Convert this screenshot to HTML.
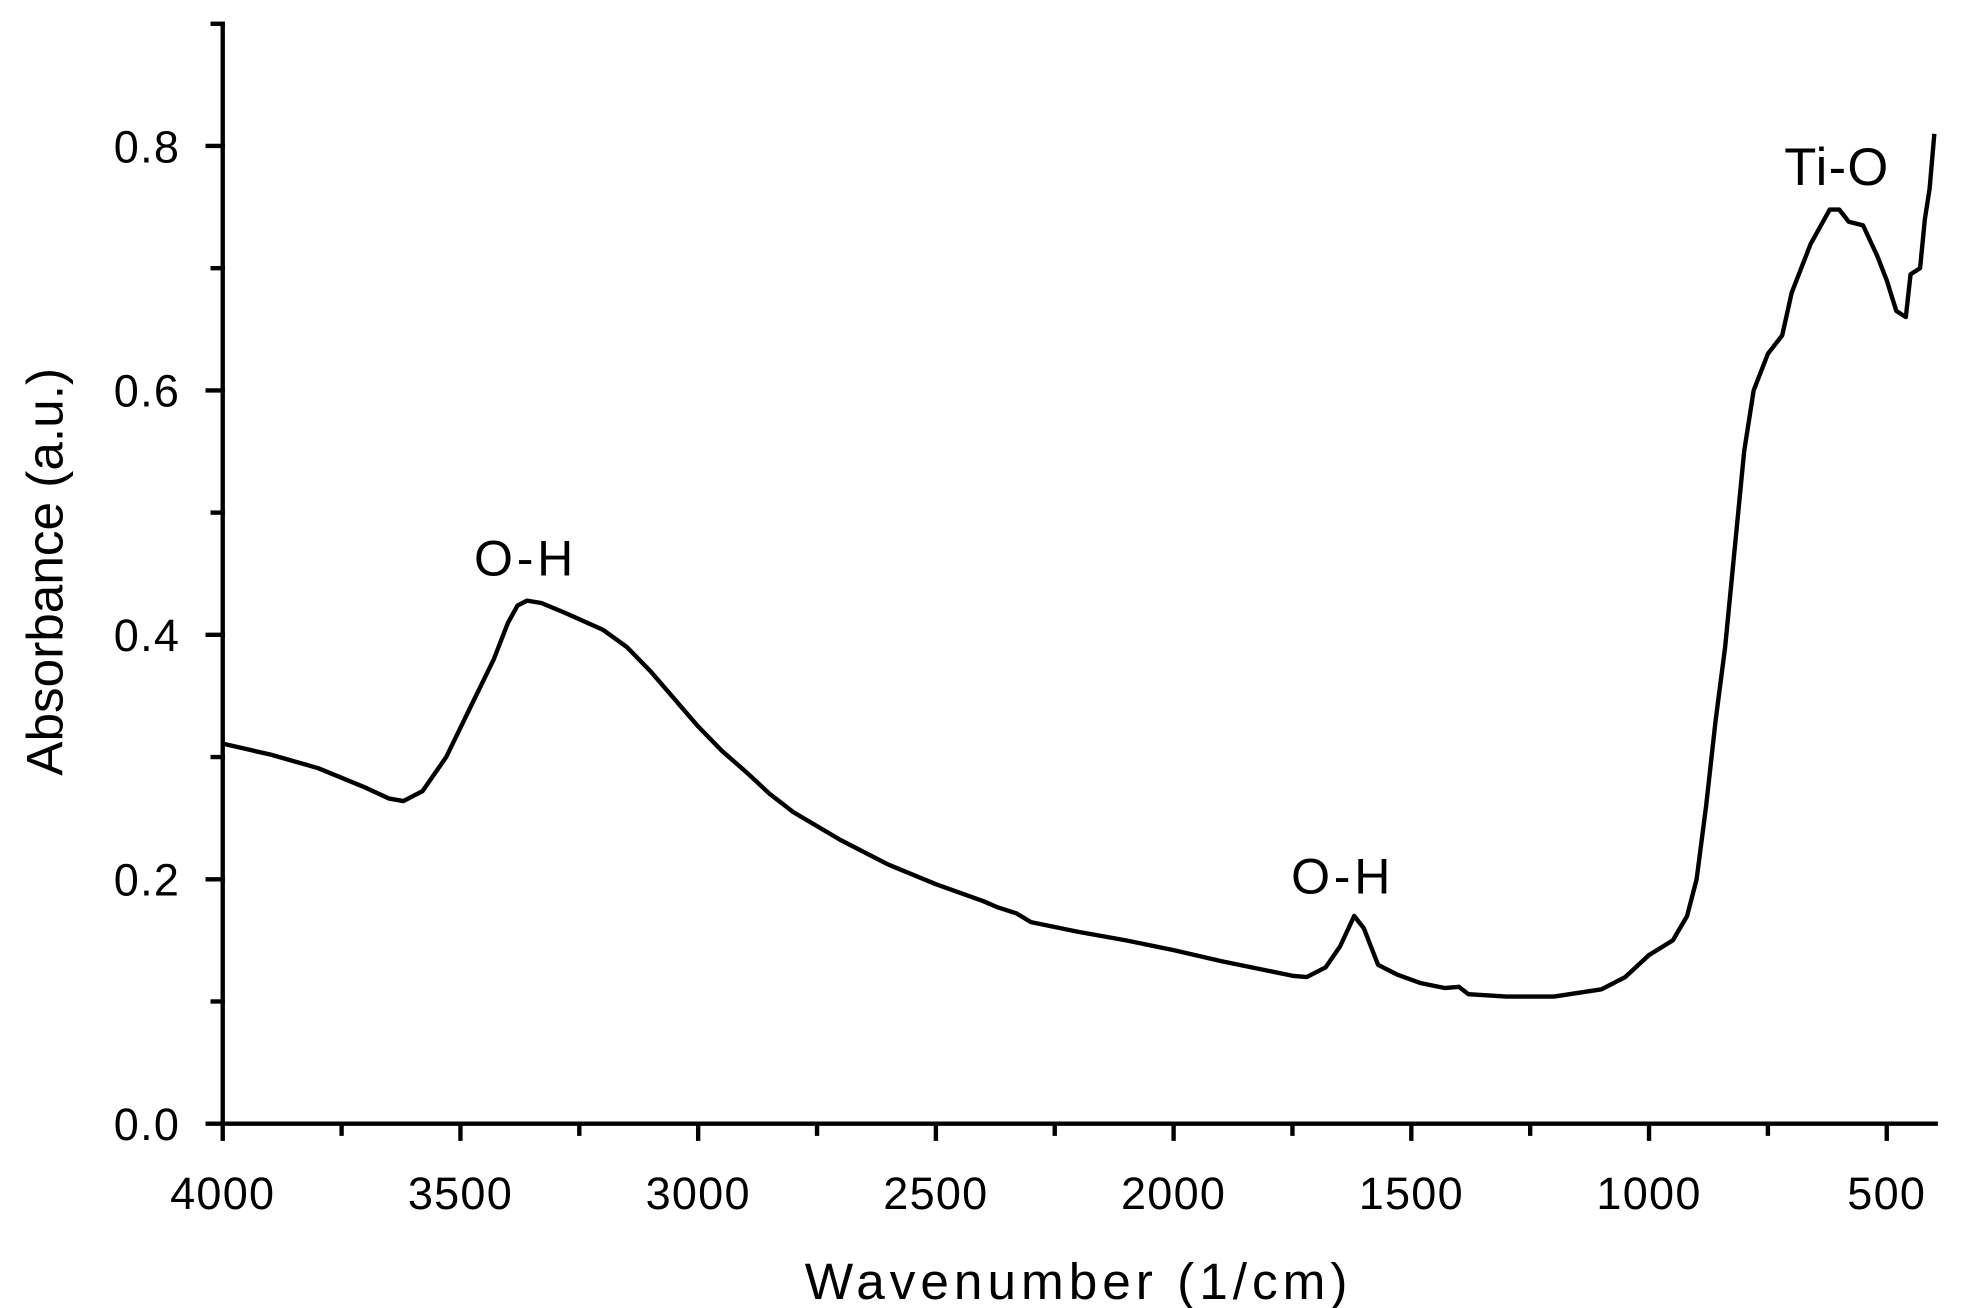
<!DOCTYPE html>
<html><head><meta charset="utf-8"><style>
html,body{margin:0;padding:0;background:#fff}
svg{display:block}
text{font-family:"Liberation Sans",Arial,sans-serif;fill:#000}
</style></head><body>
<svg id="chart" width="1962" height="1308" viewBox="0 0 1568 1045.3" preserveAspectRatio="none" xmlns="http://www.w3.org/2000/svg">
<g id="axes"></g>
<path id="curve" fill="none" stroke="#000" stroke-width="3.5" stroke-linejoin="round"/>
<text x="420" y="460" font-size="40" text-anchor="middle" letter-spacing="3">O-H</text>
<text x="1073" y="714" font-size="40" text-anchor="middle" letter-spacing="3">O-H</text>
<text x="1468" y="148" font-size="42" text-anchor="middle" letter-spacing="1">Ti-O</text>
<text x="862" y="1038" font-size="41" text-anchor="middle" letter-spacing="4">Wavenumber (1/cm)</text>
<text transform="translate(50,457) rotate(-90)" font-size="41" text-anchor="middle">Absorbance (a.u.)</text>
</svg>
<script>
const wavenumbers=[4000,3900,3800,3750,3700,3650,3620,3580,3530,3480,3430,3400,3380,3360,3330,3280,3200,3150,3100,3000,2950,2900,2850,2800,2700,2600,2500,2400,2370,2330,2300,2200,2100,2000,1900,1800,1750,1720,1680,1650,1620,1600,1570,1530,1480,1430,1400,1380,1300,1200,1100,1050,1000,950,920,900,880,860,840,820,800,780,750,720,700,660,620,600,580,550,520,500,480,460,450,430,420,410,400];
const absorbance=[0.311,0.302,0.291,0.283,0.275,0.266,0.264,0.272,0.30,0.34,0.38,0.41,0.424,0.428,0.426,0.418,0.404,0.39,0.37,0.325,0.305,0.288,0.27,0.255,0.232,0.212,0.196,0.182,0.177,0.172,0.165,0.157,0.150,0.142,0.133,0.125,0.121,0.120,0.128,0.145,0.170,0.16,0.13,0.122,0.115,0.111,0.112,0.106,0.104,0.104,0.110,0.12,0.138,0.15,0.17,0.20,0.26,0.33,0.39,0.47,0.55,0.60,0.63,0.645,0.68,0.72,0.748,0.748,0.738,0.735,0.71,0.69,0.665,0.66,0.695,0.70,0.74,0.765,0.81];
const xTicks=[4000,3500,3000,2500,2000,1500,1000,500];
const yTicks=[0.0,0.2,0.4,0.6,0.8];
const xMin=4000,xMax=397,yMin=0,yMax=0.9;
const X0=178,X1=1547,Y0=898,Y1=19;
function sx(v){return X0+(xMin-v)/(xMin-xMax)*(X1-X0);}
function sy(v){return Y0-(v-yMin)/(yMax-yMin)*(Y0-Y1);}
const NS="http://www.w3.org/2000/svg";
const axes=document.getElementById('axes');
function line(x1,y1,x2,y2,name){const l=document.createElementNS(NS,'line');
l.setAttribute('x1',x1);l.setAttribute('y1',y1);l.setAttribute('x2',x2);l.setAttribute('y2',y2);
l.setAttribute('stroke','#000');l.setAttribute('stroke-width','3.5');l.setAttribute('stroke-linecap','square');


axes.appendChild(l);}
function txt(x,y,s,anchor,name){const t=document.createElementNS(NS,'text');
t.setAttribute('x',x);t.setAttribute('y',y);t.setAttribute('font-size','36');t.setAttribute('text-anchor',anchor);t.setAttribute('letter-spacing','1');
t.textContent=s;


axes.appendChild(t);}
line(X0,Y0,X1,Y0,'x-axis-line');
line(X0,Y0,X0,Y1,'y-axis-line');
for(let v=4000;v>=xMax;v-=250){const major=v%500===0;line(sx(v),Y0,sx(v),Y0+(major?12:8),'x-tick');}
for(let v=0;v<=0.9001;v+=0.1){const major=Math.round(v*10)%2===0;line(X0,sy(v),X0-(major?12:8),sy(v),'y-tick');}
xTicks.forEach(v=>txt(sx(v),966,String(v),'middle','x-tick-label'));
yTicks.forEach(v=>txt(144,sy(v)+13,v.toFixed(1),'end','y-tick-label'));
let d='';wavenumbers.forEach((w,i)=>{d+=(i?'L':'M')+sx(w).toFixed(1)+','+sy(absorbance[i]).toFixed(1);});
document.getElementById('curve').setAttribute('d',d);
</script>
</body></html>
